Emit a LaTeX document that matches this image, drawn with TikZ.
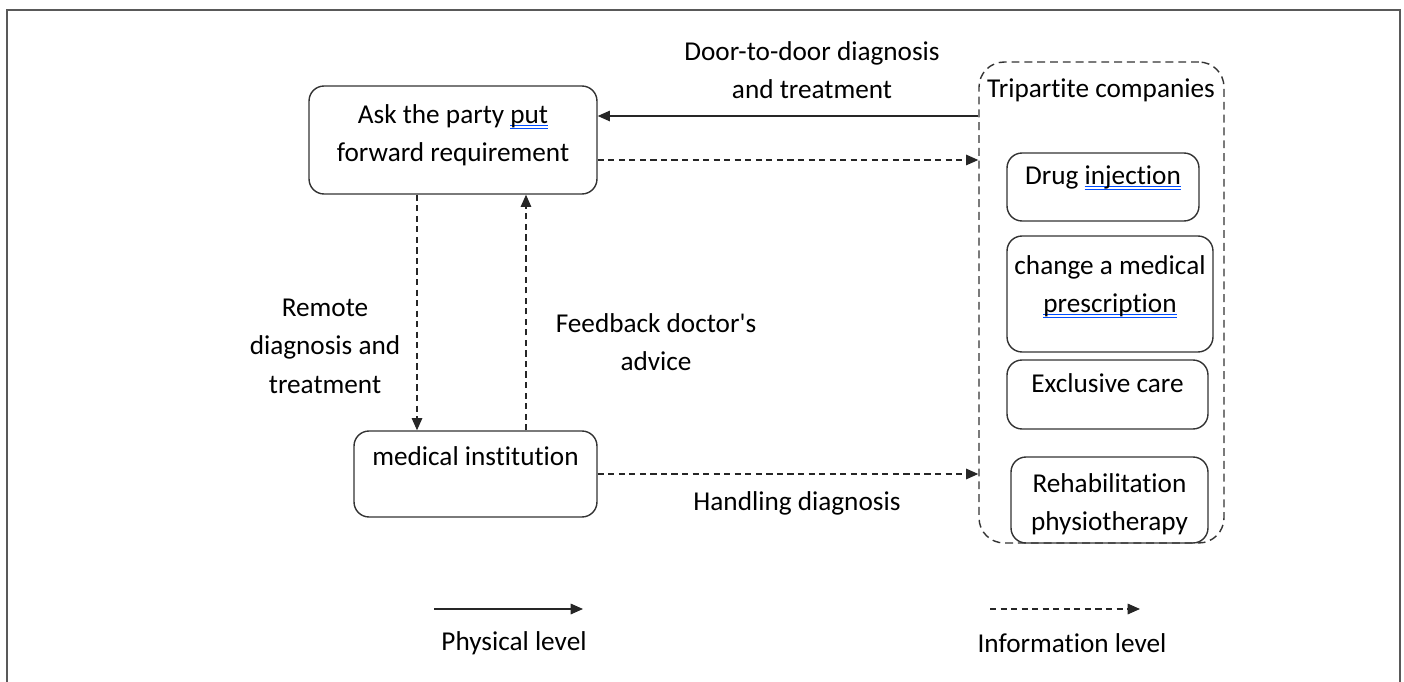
\documentclass[tikz,border=0pt]{standalone}
\usepackage{fontspec}
\setmainfont{Carlito}[Ligatures={TeXOff,CommonOff}]
\usetikzlibrary{arrows.meta}

\newsavebox\spellbox
\newcommand\spell[1]{\sbox\spellbox{#1}%
    \rlap{\color{blue!70!cyan}\smash{\rule[-1.6pt]{\wd\spellbox}{0.5pt}}}%
    \rlap{\color{blue!70!cyan}\smash{\rule[-3.2pt]{\wd\spellbox}{0.5pt}}}%
    \usebox\spellbox}

\begin{document}
\begin{tikzpicture}[x=0.02cm,y=-0.02cm,
        font=\fontsize{15.5}{21.9}\selectfont,
        box/.style={draw=black!80,line width=0.8pt,rounded corners=0.3cm},
        txt/.style={align=center,inner sep=0pt},
        phys/.style={draw=black!85,line width=0.8pt,-{Triangle[length=7pt,width=6pt]}},
        info/.style={phys,dash pattern=on 3.5pt off 2.5pt}]
        \useasboundingbox (0,0) rectangle (1404,682);
        \draw[black!65,line width=1pt] (7,682) -- (7,10) -- (1400,10) -- (1400,682);
        % left side
        \node[box,minimum width=5.76cm,minimum height=2.16cm] (ask) at (453,140) {};
        \node[txt] (askt) at (453,135) {Ask the party \spell{put}\\forward requirement};
        \node[box,minimum width=4.86cm,minimum height=1.72cm] (med) at (475.5,474) {};
        \node[txt] (medt) at (475.5,456) {medical institution};
        % tripartite companies
        \node[draw=black!80,line width=0.8pt,dash pattern=on 4.5pt off 2.8pt,rounded corners=0.5cm,
            minimum width=4.9cm,minimum height=9.62cm] (tri) at (1101.5,302.5) {};
        \node[txt] (trit) at (1101,90) {Tripartite companies};
        \node[box,minimum width=3.84cm,minimum height=1.36cm] (drug) at (1103,187) {};
        \node[txt] (drugt) at (1103,177) {Drug \spell{injection}};
        \node[box,minimum width=4.12cm,minimum height=2.32cm] (presc) at (1110,294) {};
        \node[txt] (presct) at (1110,286) {change a medical\\\spell{prescription}};
        \node[box,minimum width=4.02cm,minimum height=1.38cm] (care) at (1107.5,394.5) {};
        \node[txt] (caret) at (1107.5,383) {Exclusive care};
        \node[box,minimum width=3.94cm,minimum height=1.72cm] (rehab) at (1109.5,500) {};
        \node[txt] (rehabt) at (1109.5,504) {Rehabilitation\\physiotherapy};
        % connectors
        \coordinate (askin) at ([yshift=0.48cm]ask.east);
        \coordinate (askout) at ([yshift=-0.4cm]ask.east);
        \coordinate (down) at ([xshift=-0.72cm]ask.south);
        \coordinate (up) at ([xshift=1.46cm]ask.south);
        \draw[phys] (tri.west |- askin) -- (askin);
        \draw[info] (askout) -- (tri.west |- askout);
        \draw[info] (down) -- (down |- med.north);
        \draw[info] (up |- med.north) -- (up);
        \draw[info] (med.east) -- (med.east -| tri.west);
        \node[txt] (door) at (812,70) {Door-to-door diagnosis\\and treatment};
        \node[txt] (remote) at (325,346) {Remote\\diagnosis and\\treatment};
        \node[txt] (feed) at (656,342) {Feedback doctor's\\advice};
        \node[txt] (handle) at (797,503) {Handling diagnosis};
        % legend
        \coordinate (pa) at (434,609);
        \coordinate (pb) at (583,609);
        \coordinate (ia) at (990,609);
        \coordinate (ib) at (1140,609);
        \draw[phys] (pa) -- (pb);
        \draw[info] (ia) -- (ib);
        \node[txt] (physt) at (514,643) {Physical level};
        \node[txt] (infot) at (1072,643) {Information level};
\end{tikzpicture}
\end{document}
